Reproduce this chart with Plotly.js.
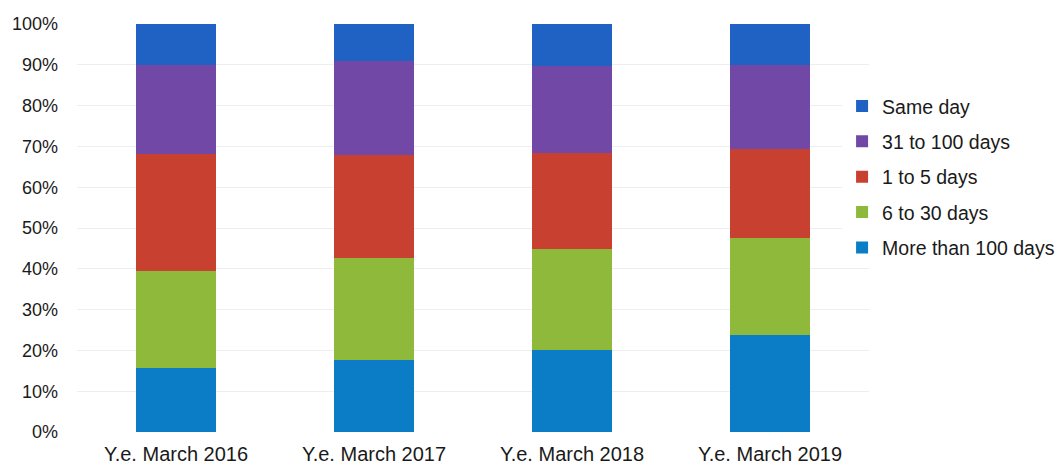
<!DOCTYPE html>
<html>
<head>
<meta charset="utf-8">
<script src="https://cdn.plot.ly/plotly-3.0.1.min.js"></script>
<style>html,body{margin:0;padding:0;background:#fff;}#chart{width:1062px;height:466px;}</style>
</head>
<body>
<div id="chart"></div>
<script>
const categories = ["Y.e. March 2016", "Y.e. March 2017", "Y.e. March 2018", "Y.e. March 2019"];
const moreThan100 = [15.8, 17.6, 20.1, 23.8];
const days6to30 = [23.7, 25.0, 24.7, 23.7];
const days1to5 = [28.6, 25.3, 23.7, 21.9];
const days31to100 = [21.9, 23.1, 21.2, 20.6];
const sameDay = [10.0, 9.0, 10.3, 10.0];
const tickVals = [0, 10, 20, 30, 40, 50, 60, 70, 80, 90, 100];
const tickText = ["0%", "10%", "20%", "30%", "40%", "50%", "60%", "70%", "80%", "90%", "100%"];

const series = [
  {name: "More than 100 days", y: moreThan100, color: "#0a7dc6"},
  {name: "6 to 30 days", y: days6to30, color: "#8fb93a"},
  {name: "1 to 5 days", y: days1to5, color: "#c8402f"},
  {name: "31 to 100 days", y: days31to100, color: "#7148a5"},
  {name: "Same day", y: sameDay, color: "#1f62c3"}
];

const traces = series.map((s, i) => ({
  type: "bar", name: s.name, x: categories, y: s.y,
  legendgroup: "g" + i,
  legendrank: 1000 - i,
  marker: {color: s.color, line: {width: 0}},
  hoverinfo: "name+y"
}));

const layout = {
  width: 1062, height: 466,
  margin: {l: 77, r: 193, t: 24, b: 34, autoexpand: false},
  barmode: "stack", bargap: 0.6,
  paper_bgcolor: "#fff", plot_bgcolor: "#fff",
  font: {family: "Liberation Sans, Arial, sans-serif", size: 18, color: "#1a1a1a"},
  xaxis: {showgrid: false, zeroline: false, showline: false, ticks: "",
          tickfont: {size: 20}, ticklabelstandoff: 8},
  yaxis: {range: [0, 100], tickvals: tickVals, ticktext: tickText, showgrid: true,
          gridcolor: "#eeeeee", gridwidth: 1, zeroline: false, showline: false,
          ticks: "", ticklabelstandoff: 18, tickfont: {size: 18}},
  legend: {x: 0.966, xanchor: "left", y: 0.846, yanchor: "top", traceorder: "grouped",
           font: {size: 19.5}, itemwidth: 30, tracegroupgap: 7, bgcolor: "#ffffff"},
  showlegend: true
};

Plotly.newPlot("chart", traces, layout, {displayModeBar: false, staticPlot: true});
</script>
</body>
</html>
